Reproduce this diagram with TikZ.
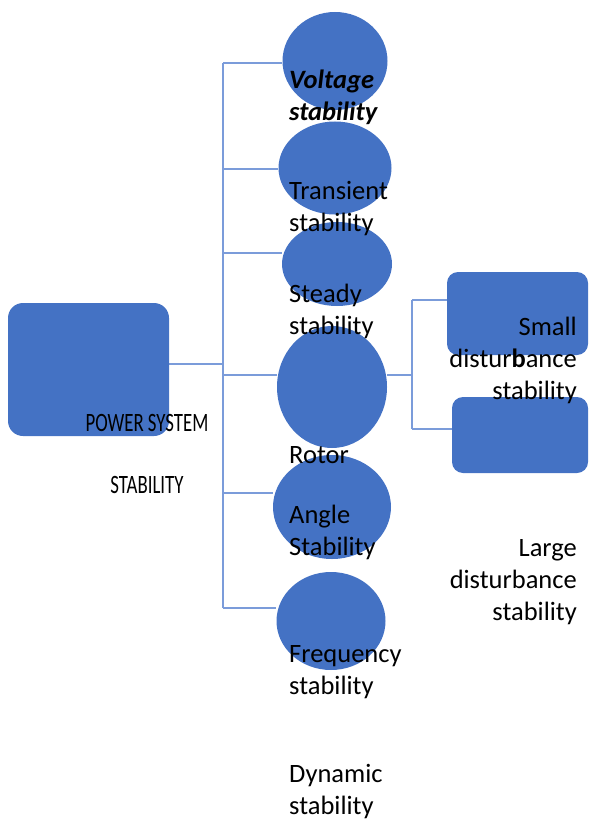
\documentclass[tikz,border=0pt]{standalone}
\usepackage{fontspec}
\setmainfont{Carlito}
\usetikzlibrary{shapes.geometric, backgrounds, positioning}
\definecolor{shapeblue}{HTML}{4472C4}
\definecolor{linkblue}{HTML}{7B9CDA}

\begin{document}
\begin{tikzpicture}[x=1pt, y=-1pt, font=\fontsize{26.5}{32}\selectfont,
        every node/.style={inner sep=0pt},
        blob/.style={ellipse, fill=shapeblue},
        box/.style={rectangle, fill=shapeblue},
        link/.style={draw=linkblue, line width=1.2pt},
        lbl/.style={anchor=base west, align=left},
        rlbl/.style={anchor=base east, align=right},
        narrow/.style={anchor=base}]
        \useasboundingbox (0,0) rectangle (589,821);
        % shapes
        \node[box, rounded corners=15pt, minimum width=161pt, minimum height=133pt] (ps) at (88.5,369.5) {};
        \node[blob, minimum width=105pt, minimum height=98pt] (volt) at (335,61) {};
        \node[blob, minimum width=113pt, minimum height=93pt] (trans) at (335,168) {};
        \node[blob, minimum width=110pt, minimum height=84pt] (steady) at (337,264) {};
        \node[blob, minimum width=110pt, minimum height=122pt] (rotor) at (332,387) {};
        \node[blob, minimum width=118pt, minimum height=104pt] (angle) at (332,507) {};
        \node[blob, minimum width=109pt, minimum height=98pt] (freq) at (331,621) {};
        \node[box, rounded corners=11pt, minimum width=141pt, minimum height=83pt] (small) at (517.5,313.5) {};
        \node[box, rounded corners=11pt, minimum width=136pt, minimum height=76pt] (large) at (520,435) {};
        % joints
        \coordinate (j0) at (223,364);
        \coordinate (t1) at (223,63);
        \coordinate (t2) at (223,169);
        \coordinate (t3) at (223,253);
        \coordinate (t4) at (223,375);
        \coordinate (t5) at (223,493);
        \coordinate (t6) at (223,608);
        \coordinate (r0) at (412,375);
        \coordinate (r1) at (412,300);
        \coordinate (r2) at (412,429);
        \begin{scope}[on background layer]
            \draw[link] (ps.east |- j0) -- (j0);
            \draw[link] (t1) -- (t6);
            \foreach \t/\n in {t1/volt, t2/trans, t3/steady, t4/rotor, t5/angle, t6/freq}
                \draw[link] (\t) -- (\t -| \n.west);
            \draw[link] (rotor.east |- r0) -- (r0);
            \draw[link] (r1) -- (r2);
            \draw[link] (r1) -- (r1 -| small.west);
            \draw[link] (r2) -- (r2 -| large.west);
        \end{scope}
        % labels (base = last line)
        \node[narrow] (pslbl) at (147,431) {\scalebox{0.71}[1]{POWER SYSTEM}};
        \node[narrow] (pslbl2) at (147,493) {\scalebox{0.71}[1]{STABILITY}};
        \node[lbl, font=\fontsize{26.5}{32}\selectfont\bfseries\itshape] (voltlbl) at (289,121) {Voltage\\stability};
        \node[lbl] (translbl) at (289,231) {Transient\\stability};
        \node[lbl] (steadylbl) at (289,334) {Steady\\stability};
        \node[lbl] (rotorlbl) at (289,463) {Rotor};
        \node[lbl] (anglelbl) at (289,555) {Angle\\Stability};
        \node[lbl] (freqlbl) at (289,694) {Frequency\\stability};
        \node[lbl] (dynlbl) at (289,814) {Dynamic\\stability};
        \node[rlbl] (smalllbl) at (577,399) {Small\\distur\textbf{b}ance\\stability};
        \node[rlbl] (largelbl) at (577,620) {Large\\disturbance\\stability};
    \end{tikzpicture}
\end{document}
